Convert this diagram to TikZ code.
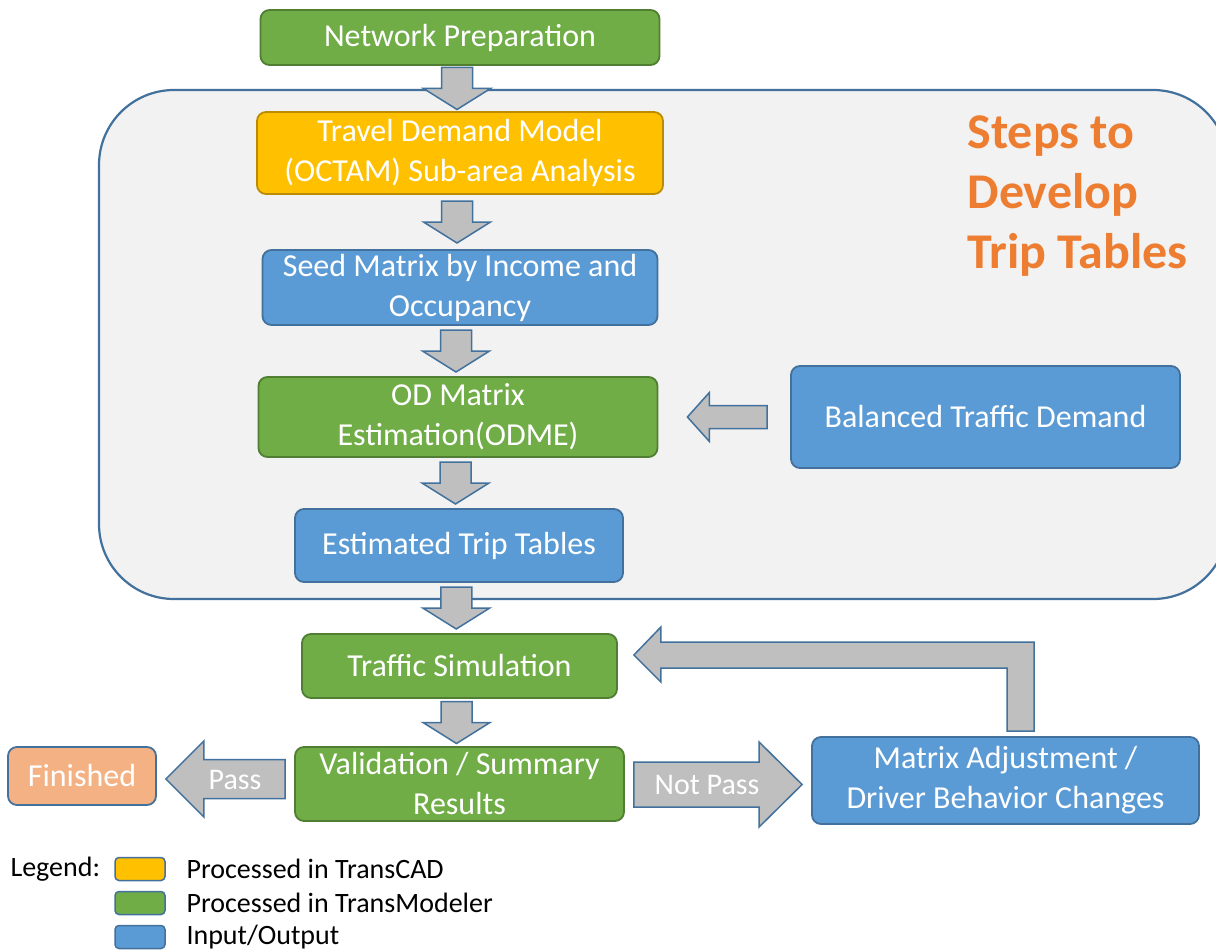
\documentclass[tikz,border=0pt]{standalone}
\usepackage{fontspec}
\setmainfont{Carlito}
\usetikzlibrary{positioning,calc}

\definecolor{modgreen}{HTML}{70AD47}
\definecolor{modgreenline}{HTML}{507E32}
\definecolor{iblue}{HTML}{5B9BD5}
\definecolor{iblueline}{HTML}{41719C}
\definecolor{cadyellow}{HTML}{FFC000}
\definecolor{cadyellowline}{HTML}{BC8C00}
\definecolor{donepeach}{HTML}{F4B183}
\definecolor{arrowgray}{HTML}{BFBFBF}
\definecolor{panelgray}{HTML}{F2F2F2}
\definecolor{titleorange}{HTML}{ED7D31}

% block arrow from #1 to #2: shaft half width #3, head half width #4, head length #5
\newcommand{\blockarrow}[5]{%
  \coordinate (ba-s) at #1;
  \coordinate (ba-t) at #2;
  \coordinate (ba-h) at ($(ba-t)!#5!(ba-s)$);
  \draw[arrowbox] ($(ba-s)!#3!90:(ba-t)$) -- ($(ba-h)!#3!-90:(ba-s)$)
    -- ($(ba-h)!#4!-90:(ba-s)$) -- (ba-t) -- ($(ba-h)!#4!90:(ba-s)$)
    -- ($(ba-h)!#3!90:(ba-s)$) -- ($(ba-s)!#3!-90:(ba-t)$) -- cycle;
}
% down arrow in the gap between two nodes
\newcommand{\stepdown}[2]{%
  \coordinate (sd) at ($(#1.south)!0.5!(#2.north)$);
  \blockarrow{($(sd)+(-3,-21)$)}{($(sd)+(-3,21)$)}{15.5pt}{33.5pt}{21pt}
}

\begin{document}
\begin{tikzpicture}[x=1pt, y=-1pt]
    \tikzset{
      stepbox/.style={
        draw, rounded corners=9pt, line width=1.8pt, inner sep=0pt, align=center,
        text=white, font=\fontsize{32}{40}\selectfont,
      },
      modbox/.style={stepbox, fill=modgreen, draw=modgreenline},
      cadbox/.style={stepbox, fill=cadyellow, draw=cadyellowline},
      iobox/.style={stepbox, fill=iblue, draw=iblueline},
      donebox/.style={stepbox, fill=donepeach, draw=iblueline},
      arrowbox/.style={draw=iblueline, fill=arrowgray, line width=1.5pt, line join=miter},
      panel/.style={draw=iblueline, fill=panelgray, line width=2.2pt, rounded corners=75pt},
      arrowtext/.style={text=white, font=\fontsize{30}{36}\selectfont},
      legendkey/.style={draw=iblueline, line width=1.5pt, rounded corners=4pt,
        minimum width=50pt, minimum height=23pt, inner sep=0pt},
      legendtext/.style={anchor=west, font=\fontsize{28}{32}\selectfont},
    }
    \useasboundingbox (0,0) rectangle (1216,950);
    \fill[white] (0,0) rectangle (1216,950);
    % panel behind the trip table steps
    \draw[panel] (99,90) rectangle (1228,599);
    \node (title) [anchor=west, align=left, text=titleorange,
      font=\bfseries\fontsize{50}{60}\selectfont] at (964,196) {Steps to\\Develop\\Trip Tables};

    % blocks
    \node (net) [modbox, minimum width=399pt, minimum height=55pt] at (460,37.5) {Network Preparation};
    \node (tdm) [cadbox, minimum width=406pt, minimum height=82pt] at (460,153) {Travel Demand Model\\(OCTAM) Sub-area Analysis};
    \node (seed) [iobox, minimum width=395pt, minimum height=75pt] at (460,287.5) {Seed Matrix by Income and\\Occupancy};
    \node (odme) [modbox, minimum width=399pt, minimum height=80pt] at (458,417) {OD Matrix\\Estimation(ODME)};
    \node (bal) [iobox, minimum width=389pt, minimum height=102pt] at (985.5,417) {Balanced Traffic Demand};
    \node (trips) [iobox, minimum width=328pt, minimum height=73pt] at (459,545.5) {Estimated Trip Tables};
    \node (sim) [modbox, minimum width=315pt, minimum height=64pt] at (459.5,666) {Traffic Simulation};
    \node (valid) [modbox, minimum width=329pt, minimum height=74pt] at (459.5,784) {Validation / Summary\\Results};
    \node (done) [donebox, minimum width=148pt, minimum height=58pt] at (82,776) {Finished};
    \node (madj) [iobox, minimum width=387pt, minimum height=87pt] at (1005.5,780.5) {Matrix Adjustment /\\Driver Behavior Changes};

    % arrows
    \foreach \from/\to in {net/tdm, tdm/seed, seed/odme, odme/trips, trips/sim, sim/valid} {
      \stepdown{\from}{\to}
    }
    \blockarrow{($(bal.west)+(-23,0)$)}{($(odme.east)+(29,0)$)}{11.5pt}{24.5pt}{22pt}
    \blockarrow{($(valid.west)+(-9,-5)$)}{($(done.east)+(9,3)$)}{19.5pt}{38pt}{38pt}
    \blockarrow{($(valid.east)+(9,0.5)$)}{($(madj.west)+(-9,4)$)}{22.5pt}{42.5pt}{43pt}
    \node (pass) [arrowtext] at (235,780) {Pass};
    \node (notpass) [arrowtext] at (707,785) {Not Pass};
    % loop back to the simulation
    \coordinate (rettip) at ($(sim.east)+(16,-11)$);
    \coordinate (retfoot) at ($(madj.north)+(15,-5)$);
    \draw[arrowbox] (rettip) -- ++(27,-28) -- ++(0,15) -| ($(retfoot)+(13.5,0)$)
      -- ++(-27,0) |- ($(rettip)+(27,13)$) -- ++(0,14) -- cycle;

    % legend
    \node (legend) [anchor=west, font=\fontsize{28}{32}\selectfont] at (7,869) {Legend:};
    \foreach[count=\i] \key/\txt in {cadyellow/Processed in TransCAD, modgreen/Processed in TransModeler, iblue/{Input/Output}} {
      \node (key\i) [legendkey, fill=\key] at (140,835+\i*34) {};
      \node (keytext\i) [legendtext] at (183,835+\i*34) {\txt};
    }
\end{tikzpicture}
\end{document}
